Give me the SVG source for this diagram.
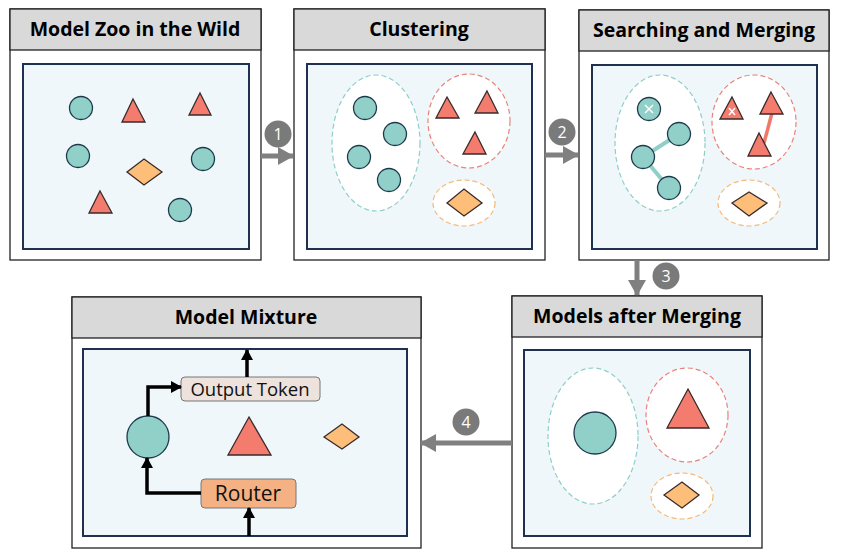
<svg xmlns="http://www.w3.org/2000/svg" width="841" height="558" viewBox="0 0 841 558">
<style>
.outer{fill:#fff;stroke:#222;stroke-width:1.3}
.head{fill:#d9d9d9;stroke:#222;stroke-width:1.3}
.inner{fill:#eff7fa;stroke:#1f3050;stroke-width:2}
.title{font-family:"Open Sans","Noto Sans",sans-serif;font-weight:bold;font-size:19.5px;fill:#000;text-anchor:middle}
.c{fill:#91d0c8;stroke:#1d3a4d;stroke-width:1.3}
.t{fill:#f47c6f;stroke:#3a2a2a;stroke-width:1.3}
.d{fill:#fdbe7a;stroke:#3a2a2a;stroke-width:1.3}
.ec{fill:#fff;stroke:#8fcfc8;stroke-width:1.2;stroke-dasharray:5 3}
.er{fill:#fff;stroke:#e8837a;stroke-width:1.2;stroke-dasharray:5 3}
.eo{fill:#fff;stroke:#f5b97a;stroke-width:1.2;stroke-dasharray:5 3}
.garrow{stroke:#808080;stroke-width:5;fill:none}
.badge{fill:#7a7a7a}
.btxt{font-family:"Open Sans","Noto Sans",sans-serif;font-size:16px;fill:#fff;text-anchor:middle}
.barrow{stroke:#000;stroke-width:3.5;fill:none}
.x{stroke:#fff;stroke-width:1.5}
.lbl{font-family:"Open Sans","Noto Sans",sans-serif;fill:#111;text-anchor:middle}
</style>
<defs>
<marker id="gh" markerUnits="userSpaceOnUse" markerWidth="16" markerHeight="18" refX="15" refY="9" orient="auto">
<path d="M0,0 L16,9 L0,18 Z" fill="#808080"/>
</marker>
<marker id="bh" markerUnits="userSpaceOnUse" markerWidth="11" markerHeight="12" refX="10" refY="6" orient="auto">
<path d="M0,0 L11,6 L0,12 Z" fill="#000"/>
</marker>
</defs>

<g id="panel-wild">
<rect class="outer" x="10" y="9" width="251" height="251"/>
<rect class="head" x="10" y="9" width="251" height="41"/>
<text class="title" x="135" y="36">Model Zoo in the Wild</text>
<rect class="inner" x="23" y="64" width="226" height="185"/>
<circle class="c" cx="81" cy="108" r="11.5"/>
<polygon class="t" points="133,99 145,122 122,122"/>
<polygon class="t" points="200,93 211,115 189,115"/>
<circle class="c" cx="78" cy="156" r="11.5"/>
<polygon class="d" points="127,172 144,159 162,172 144,185"/>
<circle class="c" cx="203" cy="159" r="11.5"/>
<polygon class="t" points="100,191 112,213 89,213"/>
<circle class="c" cx="180" cy="210" r="11.5"/>
</g>

<g id="panel-clustering">
<rect class="outer" x="294" y="9" width="251" height="251"/>
<rect class="head" x="294" y="9" width="251" height="41"/>
<text class="title" x="419" y="36">Clustering</text>
<rect class="inner" x="307" y="64" width="225" height="185"/>
<ellipse class="ec" cx="376" cy="143" rx="44" ry="68"/>
<ellipse class="er" cx="469" cy="121" rx="41" ry="47"/>
<ellipse class="eo" cx="464" cy="203" rx="31" ry="23"/>
<circle class="c" cx="365" cy="108" r="11.5"/>
<circle class="c" cx="395" cy="134" r="11.5"/>
<circle class="c" cx="359" cy="157" r="11.5"/>
<circle class="c" cx="389" cy="180" r="11.5"/>
<polygon class="t" points="447,97 459,118 436,118"/>
<polygon class="t" points="487,91 498,113 475,113"/>
<polygon class="t" points="475,132 486,154 463,154"/>
<polygon class="d" points="447,203 464,189 482,203 464,216"/>
</g>

<g id="panel-searching">
<rect class="outer" x="579" y="10" width="250" height="250"/>
<rect class="head" x="579" y="10" width="250" height="41"/>
<text class="title" x="704" y="37">Searching and Merging</text>
<rect class="inner" x="592" y="65" width="225" height="184"/>
<ellipse class="ec" cx="660" cy="143" rx="45" ry="68"/>
<ellipse class="er" cx="754" cy="122" rx="42" ry="47"/>
<ellipse class="eo" cx="749" cy="203" rx="31" ry="23"/>
<line x1="643" y1="157" x2="679" y2="134" stroke="#8fcfc8" stroke-width="4"/>
<line x1="643" y1="157" x2="669" y2="188" stroke="#8fcfc8" stroke-width="4"/>
<circle class="c" cx="649" cy="109" r="11.5"/>
<path class="x" d="M645,105 L653,113 M653,105 L645,113"/>
<circle class="c" cx="679" cy="134" r="11.5"/>
<circle class="c" cx="643" cy="157" r="11.5"/>
<circle class="c" cx="669" cy="188" r="11.5"/>
<line x1="772" y1="113" x2="764" y2="143" stroke="#f07868" stroke-width="3.5"/>
<polygon class="t" points="732,97 743,119 720,119"/>
<path class="x" d="M729,108 L735,115 M735,108 L729,115"/>
<polygon class="t" points="771,92 783,114 760,114"/>
<polygon class="t" points="759,133 771,156 748,156"/>
<polygon class="d" points="732,203 749,192 767,203 749,216"/>
</g>

<g id="panel-after">
<rect class="outer" x="512" y="296" width="250" height="252"/>
<rect class="head" x="512" y="296" width="250" height="41"/>
<text class="title" x="637" y="323">Models after Merging</text>
<rect class="inner" x="524" y="350" width="226" height="186"/>
<ellipse class="ec" cx="593" cy="436" rx="45" ry="68"/>
<ellipse class="er" cx="687" cy="415" rx="41" ry="47"/>
<ellipse class="eo" cx="682" cy="496" rx="31" ry="23"/>
<circle class="c" cx="595" cy="433" r="21"/>
<polygon class="t" points="688,389 709,428 667,428"/>
<polygon class="d" points="664,495 682,482 699,495 682,508"/>
</g>

<g id="panel-mixture">
<rect class="outer" x="72" y="297" width="349" height="251"/>
<rect class="head" x="72" y="297" width="349" height="41"/>
<text class="title" x="246" y="324">Model Mixture</text>
<rect class="inner" x="83" y="349" width="324" height="187"/>
<g id="output-token">
<rect x="181" y="377" width="139" height="24" rx="4" fill="#ede2dc" stroke="#777" stroke-width="1"/>
<text class="lbl" x="250" y="396" font-size="18.5">Output Token</text>
</g>
<circle class="c" cx="148" cy="437" r="21"/>
<polygon class="t" points="249,417 271,455 228,455"/>
<polygon class="d" points="324,437 342,424 359,437 342,449"/>
<g id="router">
<rect x="201" y="479" width="95" height="29" rx="4" fill="#f4b183" stroke="#777" stroke-width="1"/>
<text class="lbl" x="248" y="501" font-size="21">Router</text>
</g>
</g>

<g id="connectors">
<line class="garrow" x1="261" y1="156" x2="293" y2="156" marker-end="url(#gh)"/>
<line class="garrow" x1="545" y1="155" x2="578" y2="155" marker-end="url(#gh)"/>
<line class="garrow" x1="637" y1="260" x2="637" y2="295" marker-end="url(#gh)"/>
<line class="garrow" x1="512" y1="443" x2="421" y2="443" marker-end="url(#gh)"/>
<circle class="badge" cx="278" cy="134" r="13.5"/>
<text class="btxt" x="278" y="140">1</text>
<circle class="badge" cx="562" cy="132" r="13.5"/>
<text class="btxt" x="562" y="138">2</text>
<circle class="badge" cx="666" cy="276" r="13.5"/>
<text class="btxt" x="666" y="282">3</text>
<circle class="badge" cx="466" cy="422" r="13.5"/>
<text class="btxt" x="466" y="428">4</text>
<line class="barrow" x1="247" y1="377" x2="247" y2="350" marker-end="url(#bh)"/>
<polyline class="barrow" points="148,416 148,387 181,387" marker-end="url(#bh)"/>
<polyline class="barrow" points="201,493 147,493 147,458" marker-end="url(#bh)"/>
<line class="barrow" x1="249" y1="536" x2="249" y2="508" marker-end="url(#bh)"/>
</g>
</svg>
